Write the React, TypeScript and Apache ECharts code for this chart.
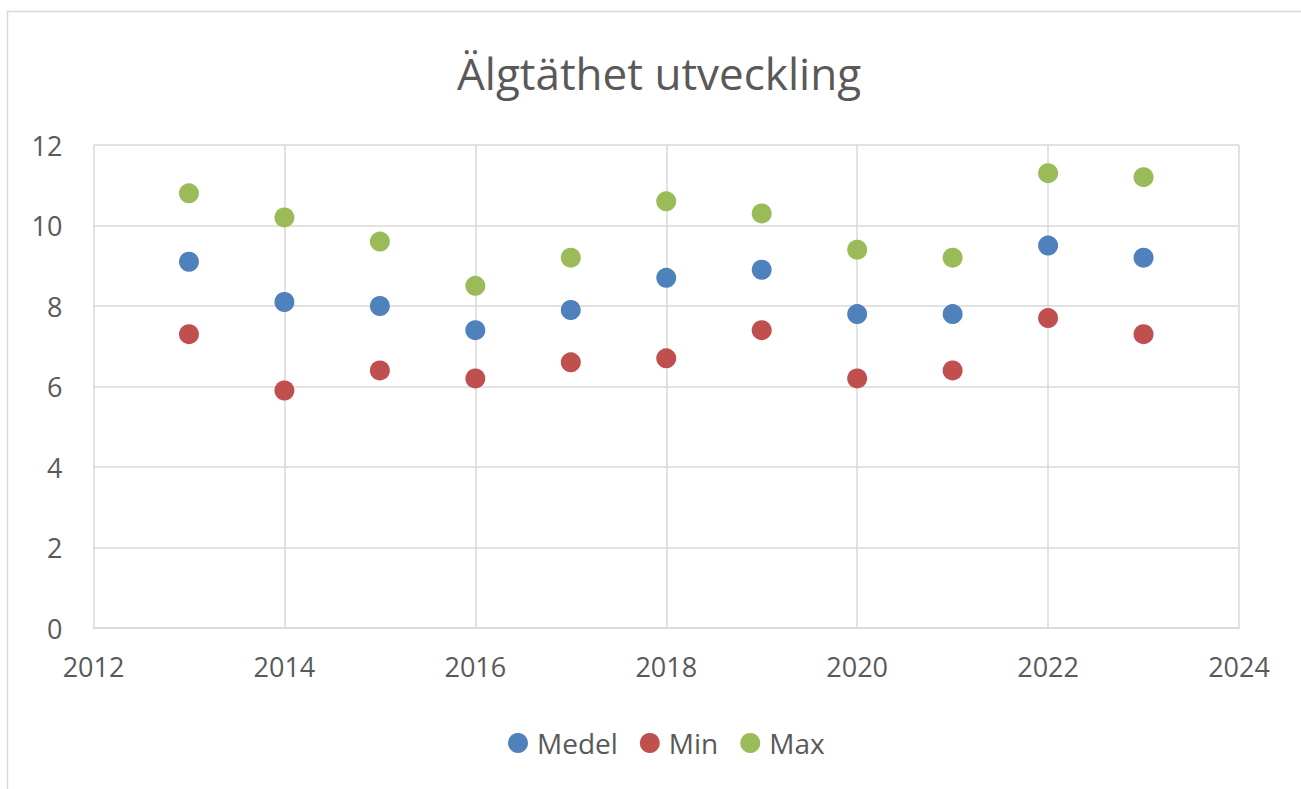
import React, { useEffect, useRef } from "react";
import * as echarts from "echarts";

const years = [2013, 2014, 2015, 2016, 2017, 2018, 2019, 2020, 2021, 2022, 2023];
const medel = [9.1, 8.1, 8.0, 7.4, 7.9, 8.7, 8.9, 7.8, 7.8, 9.5, 9.2];
const minV = [7.3, 5.9, 6.4, 6.2, 6.6, 6.7, 7.4, 6.2, 6.4, 7.7, 7.3];
const maxV = [10.8, 10.2, 9.6, 8.5, 9.2, 10.6, 10.3, 9.4, 9.2, 11.3, 11.2];
const seriesNames = ["Medel", "Min", "Max"];
const colors = ["#4F81BD", "#C0504D", "#9BBB59"];
const titleText = "Älgtäthet utveckling";

const FONT = "'Open Sans', 'Noto Sans', sans-serif";

export default function App() {
  const ref = useRef<HTMLDivElement>(null);
  useEffect(() => {
    if (!ref.current) return;
    const chart = echarts.init(ref.current, undefined, { renderer: "svg" });
    const data = [medel, minV, maxV];
    chart.setOption({
      animation: false,
      backgroundColor: "#ffffff",
      textStyle: { fontFamily: FONT, color: "#595959" },
      graphic: [
        {
          type: "rect",
          shape: { x: 7.5, y: 11.5, width: 1400, height: 900 },
          style: { fill: "none", stroke: "#d9d9d9", lineWidth: 1.5 },
          silent: true,
        },
        {
          type: "text",
          x: 659,
          y: 73,
          style: {
            text: titleText,
            fontFamily: FONT,
            fontSize: 44,
            fill: "#595959",
            align: "center",
            verticalAlign: "middle",
          },
          silent: true,
        },
      ],
      legend: {
        top: 724,
        left: 503,
        icon: "circle",
        itemWidth: 20,
        itemHeight: 20,
        itemGap: 22,
        data: seriesNames,
        textStyle: { fontFamily: FONT, fontSize: 28, color: "#595959", padding: [0, 0, 0, 4] },
      },
      grid: { left: 93.5, right: 62, top: 145, bottom: 161, containLabel: false },
      xAxis: {
        type: "value",
        min: 2012,
        max: 2024,
        interval: 2,
        axisLine: { show: true, lineStyle: { color: "#d9d9d9", width: 1.5 } },
        axisTick: { show: false },
        splitLine: { show: true, lineStyle: { color: "#d9d9d9", width: 1.5 } },
        axisLabel: {
          fontFamily: FONT,
          fontSize: 27,
          color: "#595959",
          margin: 25,
          formatter: (v: number) => String(v),
        },
      },
      yAxis: {
        type: "value",
        min: 0,
        max: 12,
        interval: 2,
        axisLine: { show: false },
        axisTick: { show: false },
        splitLine: { show: true, lineStyle: { color: "#d9d9d9", width: 1.5 } },
        axisLabel: { fontFamily: FONT, fontSize: 27, color: "#595959", margin: 31 },
      },
      series: seriesNames.map((name, i) => ({
        name,
        type: "scatter",
        symbol: "circle",
        symbolSize: 20,
        itemStyle: { color: colors[i], opacity: 1 },
        data: years.map((y, j) => [y, data[i][j]]),
      })),
    });
    return () => chart.dispose();
  }, []);
  return (
    <div
      ref={ref}
      style={{ position: "absolute", left: 0, top: 0, width: 1301, height: 789 }}
    />
  );
}
